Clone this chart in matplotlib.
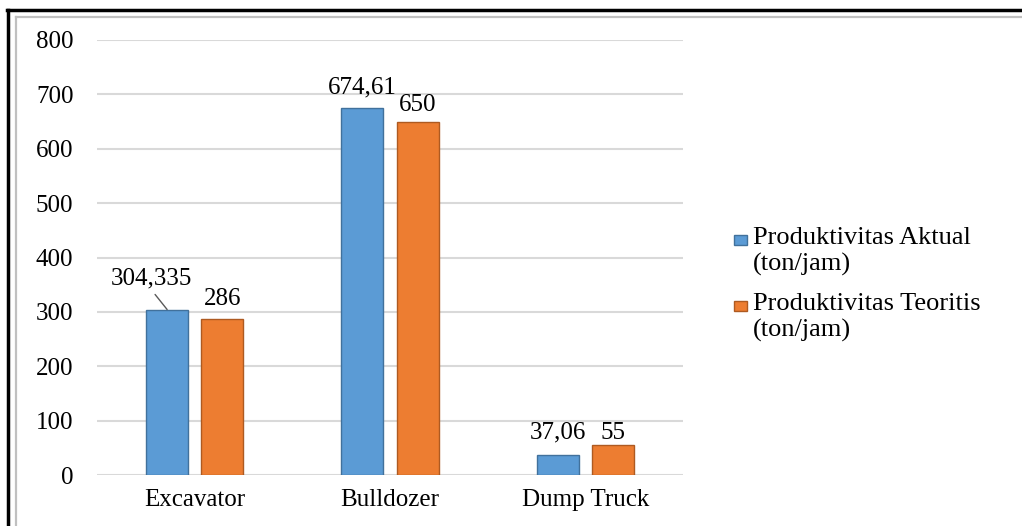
import matplotlib
matplotlib.use("Agg")
import matplotlib.pyplot as plt
from matplotlib.lines import Line2D
import numpy as np

categories = ["Excavator", "Bulldozer", "Dump Truck"]
aktual = [304.335, 674.61, 37.06]
teoritis = [286, 650, 55]
aktual_labels = ["304,335", "674,61", "37,06"]
teoritis_labels = ["286", "650", "55"]
series_names = ["Produktivitas Aktual\n(ton/jam)", "Produktivitas Teoritis\n(ton/jam)"]
yticks = [0, 100, 200, 300, 400, 500, 600, 700, 800]

plt.rcParams['font.family'] = ['Liberation Serif', 'DejaVu Serif']
FS = 18

W, H = 1022, 526
fig = plt.figure(figsize=(W / 100, H / 100), dpi=100)
ax = fig.add_axes([97 / W, 1 - 475 / H, (683 - 97) / W, (475 - 40) / H])

x = np.arange(len(categories))
bw = 0.215
off = 0.141
blue, blue_e = "#5B9BD5", "#41719C"
orange, orange_e = "#ED7D31", "#AE5A21"
b1 = ax.bar(x - off, aktual, bw, color=blue, edgecolor=blue_e, linewidth=1.0, label=series_names[0], zorder=3)
b2 = ax.bar(x + off, teoritis, bw, color=orange, edgecolor=orange_e, linewidth=1.0, label=series_names[1], zorder=3)

ax.set_xlim(-0.5, 2.5)
ax.set_ylim(0, 800)
ax.set_yticks(yticks)
ax.set_yticklabels([str(v) for v in yticks], fontsize=FS)
ax.set_xticks(x)
ax.set_xticklabels(categories, fontsize=FS)
ax.tick_params(axis='y', length=0, pad=17)
ax.tick_params(axis='x', length=0, pad=10)
ax.grid(axis='y', color='#D9D9D9', linewidth=1.5, zorder=0)
for s in ax.spines.values():
    s.set_visible(False)

# data labels (pixel offsets of label centres from bar tops, as placed in the original)
aktual_off = [(-16, 31), (0, 21), (0, 22)]
teoritis_off = [(0, 20), (0, 17), (0, 12)]
for i in range(len(categories)):
    if i == 0:
        ax.annotate(aktual_labels[i], xy=(x[i] - off, aktual[i]), xytext=aktual_off[i],
                    textcoords='offset pixels', ha='center', va='center', fontsize=FS,
                    arrowprops=dict(arrowstyle='-', color='#595959', lw=1, relpos=(0.5, 0.0),
                                    shrinkA=2, shrinkB=0))
    else:
        ax.annotate(aktual_labels[i], xy=(x[i] - off, aktual[i]), xytext=aktual_off[i],
                    textcoords='offset pixels', ha='center', va='center', fontsize=FS)
    ax.annotate(teoritis_labels[i], xy=(x[i] + off, teoritis[i]), xytext=teoritis_off[i],
                textcoords='offset pixels', ha='center', va='center', fontsize=FS)

# legend: handles aligned with first line of each label
leg_x, leg_y0, leg_dy = 734 / W, 1 - 240 / H, 66 / H
for k, (bars, name) in enumerate([(b1, series_names[0]), (b2, series_names[1])]):
    yc = leg_y0 - k * leg_dy
    sw, sh = 13, 10
    fig.patches.append(plt.Rectangle((leg_x, yc - sh / 2 / H), sw / W, sh / H,
                                     facecolor=bars.patches[0].get_facecolor(),
                                     edgecolor=bars.patches[0].get_edgecolor(), linewidth=1.0,
                                     transform=fig.transFigure, figure=fig))
    fig.text(753 / W, yc + 13 / H, name, fontsize=FS + 1, ha='left', va='top', linespacing=1.22)

# frame decoration
fig.add_artist(Line2D([7 / W, 1], [1 - 10 / H, 1 - 10 / H], color='black', lw=2.5, transform=fig.transFigure))
fig.add_artist(Line2D([8 / W, 8 / W], [0, 1 - 10 / H], color='black', lw=2.5, transform=fig.transFigure))
fig.add_artist(Line2D([16 / W, 1], [1 - 17 / H, 1 - 17 / H], color='#C0C0C0', lw=1.6, transform=fig.transFigure))
fig.add_artist(Line2D([16 / W, 16 / W], [0, 1 - 17 / H], color='#C0C0C0', lw=1.6, transform=fig.transFigure))

fig.savefig("out.png", dpi=100)
